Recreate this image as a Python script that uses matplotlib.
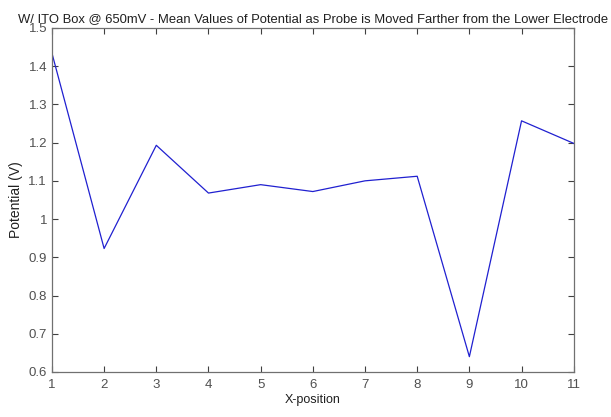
import matplotlib.pyplot as plt

plt.rcParams['font.family'] = ['Liberation Sans', 'DejaVu Sans']

x_pos = [1, 2, 3, 4, 5, 6, 7, 8, 9, 10, 11]
potential = [1.434, 0.923, 1.193, 1.068, 1.090, 1.072, 1.100, 1.112, 0.640, 1.257, 1.198]

gray = '#404040'

fig = plt.figure(figsize=(6.11, 4.17), dpi=100)
ax = fig.add_axes([0.085, 0.108, 0.854, 0.825])
ax.plot(x_pos, potential, color='#2020d0', linewidth=0.9)

ax.set_xlim(1, 11)
ax.set_ylim(0.6, 1.5)
ax.set_xticks(x_pos)
ax.set_yticks([0.6, 0.7, 0.8, 0.9, 1, 1.1, 1.2, 1.3, 1.4, 1.5])
ax.set_yticklabels(['0.6', '0.7', '0.8', '0.9', '1', '1.1', '1.2', '1.3', '1.4', '1.5'])
ax.tick_params(direction='in', length=4, width=0.8, colors=gray, labelsize=9.5,
               top=True, right=True, labelcolor='#505050')
ax.tick_params(axis='x', pad=5)
for s in ax.spines.values():
    s.set_color('#707070')
    s.set_linewidth(0.9)

ax.set_xlabel('X-position', fontsize=9, color='#202020', labelpad=2)
ax.set_ylabel('Potential (V)', fontsize=10, color='#202020', labelpad=4)
ax.set_title('W/ ITO Box @ 650mV - Mean Values of Potential as Probe is Moved Farther from the Lower Electrode',
             fontsize=9.4, color='#202020', pad=4)

plt.savefig('out.png', dpi=100)
